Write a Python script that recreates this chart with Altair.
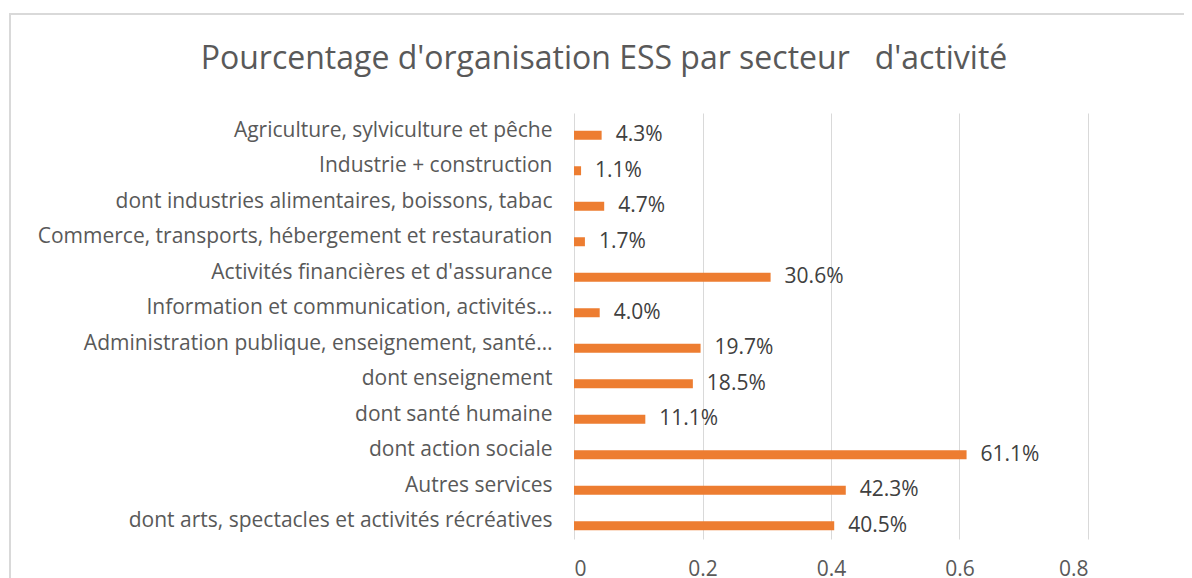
import altair as alt
import pandas as pd

categories = [
    "Agriculture, sylviculture et pêche",
    "Industrie + construction",
    "dont industries alimentaires, boissons, tabac",
    "Commerce, transports, hébergement et restauration",
    "Activités financières et d'assurance",
    "Information et communication, activités…",
    "Administration publique, enseignement, santé…",
    "dont enseignement",
    "dont santé humaine",
    "dont action sociale",
    "Autres services",
    "dont arts, spectacles et activités récréatives",
]
values = [0.043, 0.011, 0.047, 0.017, 0.306, 0.040, 0.197, 0.185, 0.111, 0.611, 0.423, 0.405]
x_ticks = [0, 0.2, 0.4, 0.6, 0.8]
title_text = "Pourcentage d'organisation ESS par secteur \u00a0 d'activité"

df = pd.DataFrame({"cat": categories, "val": values})

FONT = "Open Sans"
GREY = "#595959"
FS = 21

y_enc = alt.Y("cat:N", sort=categories, title=None,
              scale=alt.Scale(paddingInner=0, paddingOuter=0),
              axis=alt.Axis(domain=False, ticks=False, labelPadding=22,
                            labelFontSize=FS, labelColor=GREY, labelFont=FONT,
                            labelLimit=600))
x_enc = alt.X("val:Q", title=None,
              scale=alt.Scale(domain=[0, 0.8], nice=False),
              axis=alt.Axis(values=x_ticks, format="~g", domain=False, ticks=False,
                            labelPadding=19, labelFontSize=FS, labelColor=GREY,
                            labelFont=FONT, gridColor="#D9D9D9", gridWidth=1))

bars = alt.Chart(df).mark_bar(color="#ED7D31", size=9, yOffset=4.5).encode(x=x_enc, y=y_enc)

labels = alt.Chart(df).mark_text(align="left", baseline="middle", dx=14, yOffset=4.5,
                                 fontSize=FS, font=FONT, color="#404040").encode(
    x="val:Q", y=alt.Y("cat:N", sort=categories), text=alt.Text("val:Q", format=".1%"))

border = alt.Chart(alt.Data(values=[{}])).mark_rect(
    fill="transparent", stroke="#D9D9D9", strokeWidth=2).encode(
    x=alt.value(-564), x2=alt.value(900), y=alt.value(-99), y2=alt.value(700))

chart = alt.layer(border, bars, labels).properties(
    width=514, height=426,
    title=alt.TitleParams(title_text, fontSize=32, font=FONT, color=GREY,
                          fontWeight="normal", anchor="middle", dx=-227,
                          baseline="alphabetic", offset=-88),
    autosize=alt.AutoSizeParams(type="none"),
    padding={"left": 566, "top": 105, "right": 96, "bottom": 40},
).configure_view(strokeWidth=0)

chart.save("out.html", embed_options={"renderer": "svg", "actions": False})
